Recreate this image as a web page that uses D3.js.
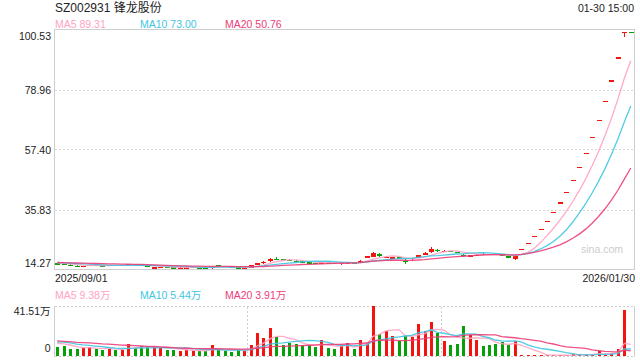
<!DOCTYPE html>
<html><head><meta charset="utf-8">
<script src="https://cdn.jsdelivr.net/npm/d3@7/dist/d3.min.js"></script>
<style>
html,body{margin:0;padding:0;background:#fff;}
svg{display:block;font-family:"Liberation Sans",Arial,"Noto Sans CJK SC",sans-serif;}
</style></head><body>
<svg id="c" width="640" height="360"></svg>
<script>
// ---------- DATA ----------
const title = "SZ002931 锋龙股份";
const timeLabel = "01-30 15:00";
const xLabels = ["2025/09/01", "2026/01/30"];
const yTickLabels = ["14.27", "35.83", "57.40", "78.96", "100.53"];
const volTickLabels = ["0", "41.51万"];
const priceLegend = ["MA5 89.31", "MA10 73.00", "MA20 50.76"];
const volLegend = ["MA5 9.38万", "MA10 5.44万", "MA20 3.91万"];
const maPeriods = [5, 10, 20];
const volDividers = [30, 60];

const opens = [16.45,16.28,16.02,15.68,15.40,15.55,15.85,15.72,15.60,15.78,
  15.65,15.85,16.18,16.05,15.80,15.00,15.05,15.12,15.02,14.90,
  14.95,15.00,15.05,14.98,14.90,15.85,15.65,15.32,15.05,14.70,
  14.95,15.90,16.50,17.20,18.20,18.00,17.80,17.50,17.15,16.85,
  16.65,16.55,16.80,16.68,16.15,16.50,16.75,16.95,18.55,18.80,
  19.95,18.60,18.55,18.60,17.30,17.90,18.50,19.40,20.50,21.30,
  20.85,20.90,20.60,19.60,19.15,19.35,19.95,19.90,19.80,19.60,
  18.95,17.90,21.65,23.82,26.20,28.82,31.70,34.88,38.36,42.20,
  46.42,51.07,56.17,61.79,67.97,74.77,82.25,90.48,99.53,99.53];
const highs = [16.58,16.36,16.08,15.80,15.62,15.92,15.95,15.80,15.85,15.86,
  15.90,16.35,16.25,16.10,15.88,15.12,15.18,15.20,15.08,15.02,
  15.08,15.12,15.10,15.05,15.60,15.95,15.70,15.40,15.10,14.95,
  15.95,16.65,17.25,18.45,18.60,18.10,17.95,17.60,17.20,16.95,
  16.75,16.95,16.90,16.75,16.60,16.85,16.80,17.55,19.14,20.50,
  20.30,19.10,18.90,18.70,18.00,18.50,19.60,20.50,22.30,21.80,
  21.30,21.05,20.70,19.90,19.60,19.75,20.05,20.00,19.90,19.70,
  19.00,19.30,21.65,23.82,26.20,28.82,31.70,34.88,38.36,42.20,
  46.42,51.07,56.17,61.79,67.97,74.77,82.25,90.48,99.53,99.53];
const lows = [16.22,15.98,15.62,15.38,15.30,15.48,15.68,15.55,15.55,15.60,
  15.60,15.80,15.98,15.80,15.25,14.85,14.95,14.98,14.90,14.80,
  14.88,14.95,14.92,14.88,14.62,15.60,15.30,15.10,14.60,14.41,
  14.90,15.85,16.40,17.10,17.80,17.75,17.30,17.05,16.75,16.55,
  16.45,16.50,16.62,16.45,16.05,16.45,16.58,16.90,18.40,18.60,
  18.85,18.40,18.30,18.30,16.40,17.80,18.40,19.30,20.20,20.70,
  20.70,20.65,20.35,18.90,18.90,19.25,19.75,19.70,19.55,19.00,
  18.30,17.80,21.65,23.82,26.20,28.82,31.70,34.88,38.36,42.20,
  46.42,51.07,56.17,61.79,67.97,74.77,82.25,90.48,97.80,99.53];
const closes = [16.30,16.05,15.70,15.45,15.52,15.85,15.72,15.60,15.78,15.65,
  15.82,16.20,16.05,15.85,15.30,15.05,15.12,15.02,14.96,14.98,
  15.02,15.08,14.98,14.92,15.30,15.70,15.35,15.15,14.80,14.88,
  15.85,16.45,17.05,18.05,18.10,17.85,17.55,17.20,16.85,16.62,
  16.55,16.80,16.70,16.55,16.50,16.75,16.65,17.40,19.14,20.20,
  19.00,18.75,18.65,18.45,17.15,18.30,19.30,20.20,21.60,21.10,
  20.95,20.80,20.45,19.30,19.30,19.60,19.85,19.80,19.65,19.10,
  18.39,19.20,21.65,23.82,26.20,28.82,31.70,34.88,38.36,42.20,
  46.42,51.07,56.17,61.79,67.97,74.77,82.25,90.48,99.53,99.53];
// volumes in 万
const volumes = [7.3,8.1,5.6,5.6,6.5,7.3,5.6,4.6,5.6,4.8,
  4.8,9.8,6.5,7.9,7.3,7.3,6.5,4.6,4.8,3.7,
  4.6,3.7,3.7,3.7,8.7,4.8,3.7,2.9,4.8,4.8,
  8.7,18.7,14.8,22.8,15.6,8.7,10.4,9.5,8.7,8.4,
  7.3,12.9,6.2,5.4,8.1,10.1,5.4,12.9,10.1,41.51,
  18.4,20.6,16.2,12.0,16.2,15.1,26.7,20.6,28.4,18.9,
  11.8,8.5,9.3,25.1,17.6,12.9,7.9,8.5,9.5,11.2,
  9.0,12.3,0.8,0.3,0.25,0.3,0.2,0.2,0.25,0.2,
  1.1,0.9,1.0,0.8,3.7,0.7,2.2,5.5,38.5,0];
// sessions before 2025/09/01 (for moving-average warm-up)
const priorCloses = [16.9,17.0,16.8,16.7,16.9,17.1,16.9,16.8,16.6,16.7,
  16.9,16.8,16.7,16.6,16.8,16.9,16.8,16.7,16.6];
const priorVolumes = [14,12,16,11,13,15,12,10,14,13,11,12,15,13,12,11,10,12,11];

// ---------- STYLE ----------
const RED = "#f2150f", GREEN = "#08a008";
const maColors = ["#ffa2c2", "#3ec6e2", "#ec3d78"];
const legendX = [55, 140, 225];

const svg = d3.select("#c");
const n = closes.length;
const idx = d3.range(n);

const x = d3.scaleBand().domain(idx).range([54, 634]);
const y = d3.scaleLinear()
  .domain([d3.min(lows) * 0.99, d3.max(highs) * 1.01])
  .range([269.5, 29.5]);
const yv = d3.scaleLinear().domain([0, d3.max(volumes)]).range([355.5, 306]);

function colorOf(i) {
  if (closes[i] > opens[i]) return RED;
  if (closes[i] < opens[i]) return GREEN;
  const prev = i > 0 ? closes[i - 1] : priorCloses[priorCloses.length - 1];
  return closes[i] > prev ? RED : GREEN;
}
function movingAvg(vals, prior, p) {
  const all = prior.concat(vals);
  return vals.map((v, i) => {
    const end = prior.length + i;
    return d3.mean(all.slice(end - p + 1, end + 1));
  });
}
const cx = i => x(i) + x.bandwidth() / 2;

// ---------- TEXT HEADER ----------
svg.append("text").attr("x", 55).attr("y", 12).attr("font-size", 12)
  .attr("fill", "#222").text(title);
svg.append("text").attr("x", 634).attr("y", 12).attr("font-size", 10.5)
  .attr("text-anchor", "end").attr("fill", "#222").text(timeLabel);
priceLegend.forEach((t, k) => svg.append("text").attr("x", legendX[k]).attr("y", 27.5)
  .attr("font-size", 10.5).attr("fill", maColors[k]).text(t));

// ---------- PRICE PANEL ----------
const tickVals = yTickLabels.map(Number);
const grid = svg.append("g");
tickVals.slice(1, -1).forEach(v => {
  const yy = Math.round(y(v)) + 0.5;
  grid.append("line").attr("x1", 55).attr("x2", 634).attr("y1", yy).attr("y2", yy)
    .attr("stroke", "#d6d6d6").attr("stroke-dasharray", "2,2");
});
svg.append("rect").attr("x", 54.5).attr("y", 29.5).attr("width", 580).attr("height", 240)
  .attr("fill", "none").attr("stroke", "#cfcfcf");

const yAxis = d3.axisLeft(y).tickValues(tickVals).tickSize(0)
  .tickFormat((d, i) => yTickLabels[i]);
const ga = svg.append("g").attr("transform", "translate(51,0)").call(yAxis);
ga.select(".domain").remove();
ga.selectAll("text").attr("font-size", 10.5).attr("fill", "#222")
  .attr("font-family", "'Liberation Sans',Arial,sans-serif").attr("x", 0)
  .attr("dy", (d, i) => i === 0 ? "-0.25em" : (i === tickVals.length - 1 ? "0.95em" : "0.35em"));

// watermark
svg.append("text").attr("x", 623).attr("y", 253).attr("font-size", 10.5)
  .attr("text-anchor", "end").attr("fill", "#cccccc").text("sina.com");

// candles
const bodyW = x.bandwidth() * 0.7;
const cg = svg.append("g").attr("shape-rendering", "crispEdges");
idx.forEach(i => {
  const c = colorOf(i);
  const xc = Math.round(cx(i)) + 0.5;
  if (highs[i] > lows[i]) {
    cg.append("line").attr("x1", xc).attr("x2", xc)
      .attr("y1", y(highs[i])).attr("y2", y(lows[i])).attr("stroke", c).attr("stroke-width", 1);
  }
  const top = y(Math.max(opens[i], closes[i]));
  const h = Math.max(1.2, Math.abs(y(opens[i]) - y(closes[i])));
  cg.append("rect").attr("x", xc - bodyW / 2).attr("y", top).attr("width", bodyW)
    .attr("height", h).attr("fill", c);
});

// moving averages
maPeriods.forEach((p, k) => {
  const ma = movingAvg(closes, priorCloses, p);
  svg.append("path").datum(ma)
    .attr("d", d3.line().x((d, i) => cx(i)).y(d => y(d)))
    .attr("fill", "none").attr("stroke", maColors[k]).attr("stroke-width", 1.3)
    .attr("stroke-opacity", 0.9);
});

// x labels
svg.append("text").attr("x", 55).attr("y", 282).attr("font-size", 10.5).attr("fill", "#222")
  .text(xLabels[0]);
svg.append("text").attr("x", 635).attr("y", 282).attr("font-size", 10.5).attr("fill", "#222")
  .attr("text-anchor", "end").text(xLabels[1]);

// ---------- VOLUME PANEL ----------
volLegend.forEach((t, k) => svg.append("text").attr("x", legendX[k]).attr("y", 299)
  .attr("font-size", 10.5).attr("fill", maColors[k]).text(t));

svg.append("line").attr("x1", 55).attr("x2", 634).attr("y1", 306.5).attr("y2", 306.5)
  .attr("stroke", "#cfcfcf").attr("stroke-dasharray", "2,2");
svg.append("line").attr("x1", 55).attr("x2", 634).attr("y1", 356.5).attr("y2", 356.5)
  .attr("stroke", "#cfcfcf").attr("stroke-dasharray", "2,2");
svg.append("line").attr("x1", 54.5).attr("x2", 54.5).attr("y1", 306).attr("y2", 357)
  .attr("stroke", "#cfcfcf");
svg.append("line").attr("x1", 634.5).attr("x2", 634.5).attr("y1", 306).attr("y2", 357)
  .attr("stroke", "#cfcfcf");
volDividers.forEach(d => {
  const xx = Math.round(x(d)) + 0.5;
  svg.append("line").attr("x1", xx).attr("x2", xx).attr("y1", 307).attr("y2", 356)
    .attr("stroke", "#cfcfcf").attr("stroke-dasharray", "2,2");
});

svg.append("text").attr("x", 50.5).attr("y", 315).attr("font-size", 10.5)
  .attr("text-anchor", "end").attr("fill", "#222").text(volTickLabels[1]);
svg.append("text").attr("x", 50.5).attr("y", 352).attr("font-size", 10.5)
  .attr("text-anchor", "end").attr("fill", "#222").text(volTickLabels[0]);

const vbW = x.bandwidth() * 0.58;
const vg = svg.append("g").attr("shape-rendering", "crispEdges");
idx.forEach(i => {
  if (volumes[i] <= 0) return;
  const xc = Math.round(cx(i)) + 0.5;
  const top = yv(volumes[i]);
  vg.append("rect").attr("x", xc - vbW / 2).attr("y", top).attr("width", vbW)
    .attr("height", Math.max(0.8, yv(0) - top)).attr("fill", colorOf(i));
});

maPeriods.forEach((p, k) => {
  const ma = movingAvg(volumes, priorVolumes, p);
  svg.append("path").datum(ma)
    .attr("d", d3.line().x((d, i) => cx(i)).y(d => yv(d)))
    .attr("fill", "none").attr("stroke", maColors[k]).attr("stroke-width", 1.3)
    .attr("stroke-opacity", 0.9);
});
</script>
</body></html>
